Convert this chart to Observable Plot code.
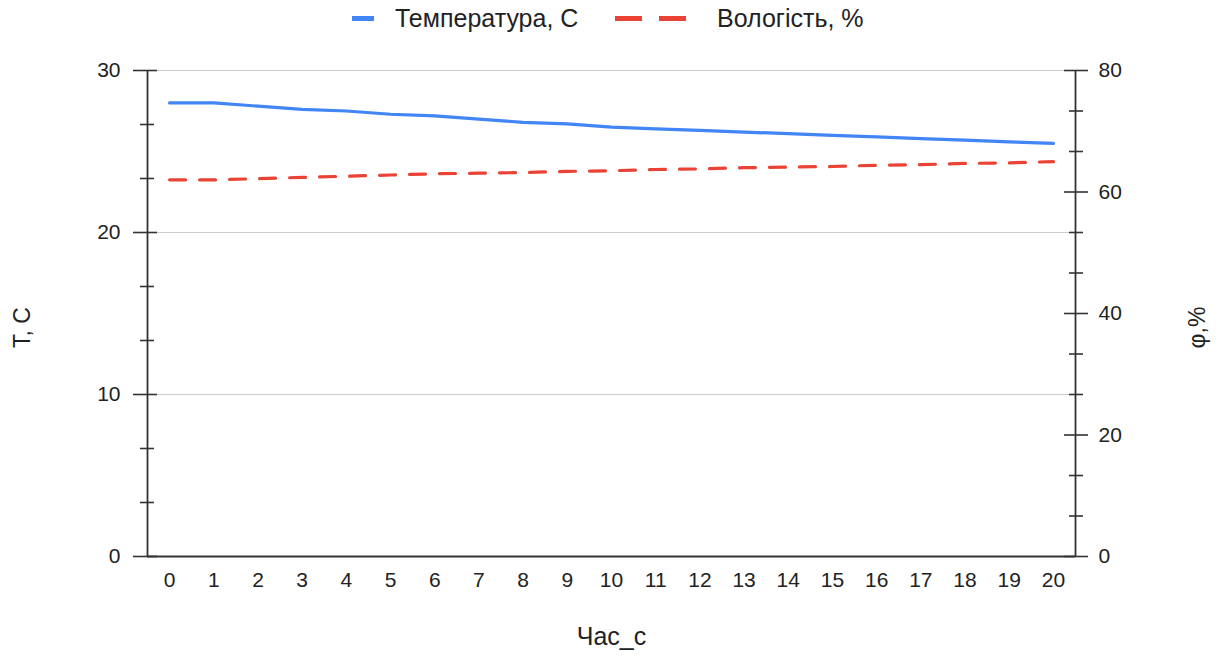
<!DOCTYPE html>
<html>
<head>
<meta charset="utf-8">
<script src="https://cdn.jsdelivr.net/npm/d3@7"></script>
<script src="https://cdn.jsdelivr.net/npm/@observablehq/plot@0.6"></script>
<style>
  html, body { margin: 0; padding: 0; background: #fff; }
  #wrap { position: relative; width: 1218px; height: 657px; font-family: "Liberation Sans", Arial, sans-serif; }
  .leg { position: absolute; top: 0; font-size: 25px; color: #222; line-height: 36px; white-space: nowrap; }
  .sw { position: absolute; top: 16px; height: 5px; }
</style>
</head>
<body>
<div id="wrap">
  <div class="sw" style="left:352px;width:22px;background:#4285F4"></div>
  <div class="leg" style="left:395px">Температура, C</div>
  <div class="sw" style="left:615px;width:27px;background:#EA4335"></div>
  <div class="sw" style="left:659px;width:27px;background:#EA4335"></div>
  <div class="leg" style="left:717px">Вологість, %</div>
  <div id="chart"></div>
</div>
<script>
const hours = [0,1,2,3,4,5,6,7,8,9,10,11,12,13,14,15,16,17,18,19,20];
const temperature = [28.0,28.0,27.8,27.6,27.5,27.3,27.2,27.0,26.8,26.7,26.5,26.4,26.3,26.2,26.1,26.0,25.9,25.8,25.7,25.6,25.5];
const humidity = [62.0,62.0,62.2,62.4,62.6,62.8,63.0,63.1,63.2,63.4,63.5,63.7,63.8,64.0,64.1,64.2,64.4,64.5,64.7,64.8,65.0];
const tTicks = [0,10,20,30];
const tMinor = [10/3,20/3,40/3,50/3,70/3,80/3];
const phiTicks = [0,20,40,60,80];
const phiMinor = [20/3,40/3,80/3,100/3,140/3,160/3,200/3,220/3];
const tMax = 30, phiMax = 80;
const k = tMax / phiMax;
const xDomain = [-0.5, 20.5];

const rows = hours.map((h, i) => ({h, t: temperature[i], phi: humidity[i]}));
const axisColor = "#333";

const chart = Plot.plot({
  width: 1218,
  height: 657,
  marginTop: 70,
  marginBottom: 101,
  marginLeft: 147,
  marginRight: 143,
  style: {fontFamily: "'Liberation Sans', Arial, sans-serif", fontSize: "21px", color: "#222", background: "#fff"},
  x: {domain: xDomain},
  y: {domain: [0, tMax]},
  marks: [
    Plot.gridY({ticks: tTicks.filter(d => d > 0), stroke: "#ccc", strokeOpacity: 1, strokeWidth: 1}),
    // left axis
    Plot.axisY({ticks: tTicks, tickSize: 0, tickPadding: 27, label: null, tickFormat: d => String(d)}),
    Plot.axisY({ticks: tTicks, tickSize: 24, dx: 10, tickFormat: () => "", label: null, stroke: axisColor, strokeWidth: 1.6}),
    Plot.axisY({ticks: tMinor, tickSize: 14, dx: 7, tickFormat: () => "", label: null, stroke: axisColor, strokeWidth: 1.6}),
    // right axis (humidity, mapped onto T scale)
    Plot.axisY({anchor: "right", ticks: phiTicks.map(p => p * k), tickSize: 0, tickPadding: 23, label: null, tickFormat: d => String(Math.round(d / k))}),
    Plot.axisY({anchor: "right", ticks: phiTicks.map(p => p * k), tickSize: 24, dx: -12, tickFormat: () => "", label: null, stroke: axisColor, strokeWidth: 1.6}),
    Plot.axisY({anchor: "right", ticks: phiMinor.map(p => p * k), tickSize: 14, dx: -7, tickFormat: () => "", label: null, stroke: axisColor, strokeWidth: 1.6}),
    // x axis
    Plot.axisX({ticks: hours, tickSize: 0, tickPadding: 16, label: null, tickFormat: d => String(d)}),
    Plot.ruleX(xDomain, {stroke: axisColor, strokeWidth: 1.8}),
    Plot.ruleY([0], {stroke: axisColor, strokeWidth: 1.8}),
    // series
    Plot.line(rows, {x: "h", y: "t", stroke: "#4285F4", strokeWidth: 3.2}),
    Plot.line(rows, {x: "h", y: d => d.phi * k, stroke: "#EA4335", strokeWidth: 3.2, strokeDasharray: "16,14"}),
    // axis titles
    Plot.text(["Час_c"], {frameAnchor: "bottom", dy: 88, fontSize: 25, fill: "#222", textAnchor: "middle"}),
    Plot.text(["T, C"], {frameAnchor: "left", dx: -125, dy: 14, rotate: -90, fontSize: 23, fill: "#222", textAnchor: "middle"}),
    Plot.text(["φ,%"], {frameAnchor: "right", dx: 122, dy: 14, rotate: -90, fontSize: 23, fill: "#222", textAnchor: "middle"})
  ]
});
document.getElementById("chart").appendChild(chart);
</script>
</body>
</html>
